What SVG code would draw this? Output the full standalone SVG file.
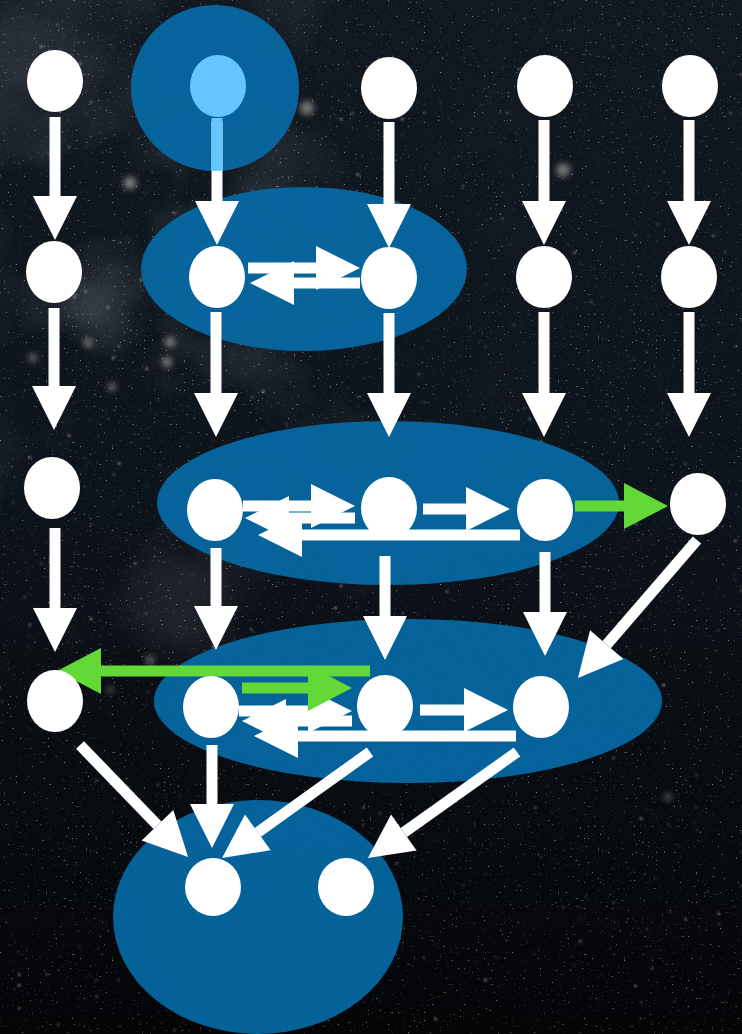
<svg xmlns="http://www.w3.org/2000/svg" width="742" height="1034" viewBox="0 0 742 1034">
  <style>
    .cluster { fill: #0569a5; opacity: 0.93; }
    .node { fill: #ffffff; }
    .node.src { fill: #66c5ff; }
    .edge { stroke: #ffffff; stroke-width: 11; fill: none; marker-end: url(#head); }
    .edge.hl { stroke: #62d936; marker-end: url(#headGreen); }
    .glow { fill: #b9b6aa; filter: url(#soft); }
  </style>
  <defs>
    <marker id="head" markerUnits="userSpaceOnUse" markerWidth="46" markerHeight="46" refX="0" refY="22" orient="auto" overflow="visible">
      <path d="M0,0 L44,22 L0,44 Z" fill="#ffffff"/>
    </marker>
    <marker id="headGreen" markerUnits="userSpaceOnUse" markerWidth="46" markerHeight="46" refX="0" refY="23" orient="auto" overflow="visible">
      <path d="M0,0 L44,23 L0,46 Z" fill="#62d936"/>
    </marker>
    <linearGradient id="sky" x1="0" y1="0" x2="0" y2="1">
      <stop offset="0" stop-color="#121820"/>
      <stop offset="0.5" stop-color="#0d131a"/>
      <stop offset="1" stop-color="#040507"/>
    </linearGradient>
    <radialGradient id="hazeMask" cx="0.2" cy="0.25" r="0.55">
      <stop offset="0" stop-color="#fff" stop-opacity="1"/>
      <stop offset="0.6" stop-color="#fff" stop-opacity="0.4"/>
      <stop offset="1" stop-color="#fff" stop-opacity="0"/>
    </radialGradient>
    <mask id="hazeArea" maskUnits="userSpaceOnUse" x="0" y="0" width="742" height="1034">
      <rect width="742" height="1034" fill="url(#hazeMask)"/>
    </mask>
    <filter id="nebula" filterUnits="userSpaceOnUse" x="0" y="0" width="742" height="1034">
      <feTurbulence type="fractalNoise" baseFrequency="0.006" numOctaves="4" seed="4"/>
      <feColorMatrix type="matrix" values="0 0 0 0 0.40  0 0 0 0 0.44  0 0 0 0 0.50  2.2 0 0 0 -0.95"/>
    </filter>
    <filter id="dust" filterUnits="userSpaceOnUse" x="0" y="0" width="742" height="1034">
      <feTurbulence type="fractalNoise" baseFrequency="0.5" numOctaves="1" seed="11"/>
      <feColorMatrix type="matrix" values="0 0 0 0 0.82  0 0 0 0 0.84  0 0 0 0 0.80  10 0 0 0 -7.1"/>
      <feGaussianBlur stdDeviation="0.5"/>
    </filter>
    <filter id="bright" filterUnits="userSpaceOnUse" x="0" y="0" width="742" height="1034">
      <feTurbulence type="fractalNoise" baseFrequency="0.18" numOctaves="1" seed="23"/>
      <feColorMatrix type="matrix" values="0 0 0 0 0.88  0 0 0 0 0.88  0 0 0 0 0.82  14 0 0 0 -10.6"/>
      <feGaussianBlur stdDeviation="0.8"/>
    </filter>
    <filter id="soft" x="-2" y="-2" width="5" height="5">
      <feGaussianBlur stdDeviation="3"/>
    </filter>
    <clipPath id="srcClip">
      <ellipse cx="215" cy="88" rx="84" ry="83"/>
    </clipPath>
  </defs>

  <!-- night sky backdrop -->
  <g id="backdrop">
    <rect width="742" height="1034" fill="url(#sky)"/>
    <rect width="742" height="1034" filter="url(#nebula)" mask="url(#hazeArea)" opacity="0.4"/>
    <rect width="742" height="1034" filter="url(#dust)" opacity="0.5"/>
    <rect width="742" height="1034" filter="url(#bright)" opacity="0.6"/>
    <circle class="glow" cx="130" cy="183" r="6" opacity="0.7"/>
    <circle class="glow" cx="307" cy="108" r="7" opacity="0.6"/>
    <circle class="glow" cx="563" cy="170" r="7" opacity="0.6"/>
    <circle class="glow" cx="88" cy="343" r="4" opacity="0.7"/>
    <circle class="glow" cx="33" cy="358" r="4" opacity="0.6"/>
    <circle class="glow" cx="170" cy="342" r="5" opacity="0.7"/>
    <circle class="glow" cx="167" cy="362" r="5" opacity="0.7"/>
    <circle class="glow" cx="112" cy="387" r="4" opacity="0.6"/>
    <circle class="glow" cx="668" cy="797" r="3" opacity="0.7"/>
    <circle class="glow" cx="150" cy="660" r="4" opacity="0.6"/>
    <circle class="glow" cx="110" cy="690" r="3" opacity="0.5"/>
  </g>

  <!-- cluster regions -->
  <g id="clusters">
    <ellipse id="cluster-0" class="cluster" cx="215" cy="88" rx="84" ry="83"/>
    <ellipse id="cluster-1" class="cluster" cx="304" cy="269" rx="163" ry="82"/>
    <ellipse id="cluster-2" class="cluster" cx="388" cy="503" rx="231" ry="82"/>
    <ellipse id="cluster-3" class="cluster" cx="408" cy="701" rx="254" ry="82"/>
    <ellipse id="cluster-4" class="cluster" cx="258" cy="917" rx="145" ry="117"/>
  </g>

  <!-- connectors (each line ends at the arrowhead base) -->
  <g id="connectors">
    <!-- row 1 to row 2 -->
    <line class="edge" x1="55" y1="117" x2="55" y2="196"/>
    <line class="edge" x1="217" y1="122" x2="217" y2="201"/>
    <line class="edge" x1="389" y1="122" x2="389" y2="204"/>
    <line class="edge" x1="544" y1="120" x2="544" y2="201"/>
    <line class="edge" x1="689" y1="120" x2="689" y2="201"/>
    <!-- highlighted part of the source edge inside its cluster -->
    <rect x="211.5" y="118" width="11" height="60" fill="#66c5ff" clip-path="url(#srcClip)"/>

    <!-- row 2 -->
    <line class="edge" x1="248" y1="268" x2="316" y2="268"/>
    <line class="edge" x1="360" y1="283" x2="294" y2="283"/>

    <!-- row 2 to row 3 -->
    <line class="edge" x1="54" y1="308" x2="54" y2="386"/>
    <line class="edge" x1="216" y1="312" x2="216" y2="393"/>
    <line class="edge" x1="389" y1="313" x2="389" y2="393"/>
    <line class="edge" x1="544" y1="312" x2="544" y2="393"/>
    <line class="edge" x1="689" y1="312" x2="689" y2="393"/>

    <!-- row 3 -->
    <line class="edge" x1="243" y1="506" x2="311" y2="506"/>
    <line class="edge" x1="355" y1="518" x2="289" y2="518"/>
    <line class="edge" x1="520" y1="535" x2="302" y2="535"/>
    <line class="edge" x1="423" y1="509" x2="466" y2="509"/>
    <line class="edge hl" x1="575" y1="506" x2="624" y2="506"/>

    <!-- row 3 to row 4 -->
    <line class="edge" x1="55" y1="528" x2="55" y2="608"/>
    <line class="edge" x1="216" y1="548" x2="216" y2="606"/>
    <line class="edge" x1="385" y1="556" x2="385" y2="616"/>
    <line class="edge" x1="545" y1="552" x2="545" y2="612"/>
    <line class="edge" x1="697" y1="540" x2="606.7" y2="644.7"/>

    <!-- row 4 -->
    <line class="edge" x1="239" y1="711" x2="308" y2="711"/>
    <line class="edge" x1="352" y1="721" x2="286" y2="721"/>
    <line class="edge" x1="516" y1="736" x2="298" y2="736"/>
    <line class="edge" x1="420" y1="710" x2="464" y2="710"/>
    <line class="edge hl" x1="370" y1="671" x2="101" y2="671"/>
    <line class="edge hl" x1="242" y1="688" x2="308" y2="688"/>

    <!-- row 4 to row 5 -->
    <line class="edge" x1="80" y1="745" x2="157.5" y2="825.3"/>
    <line class="edge" x1="212" y1="745" x2="212" y2="804"/>
    <line class="edge" x1="370" y1="752" x2="257.8" y2="832.4"/>
    <line class="edge" x1="517" y1="752" x2="403.8" y2="832.5"/>
  </g>

  <!-- nodes -->
  <g id="n-1-1"><ellipse class="node" cx="55" cy="81" rx="28" ry="31"/></g>
  <g id="n-1-2"><ellipse class="node src" cx="218" cy="86" rx="28" ry="31"/></g>
  <g id="n-1-3"><ellipse class="node" cx="389" cy="88" rx="28" ry="31"/></g>
  <g id="n-1-4"><ellipse class="node" cx="545" cy="86" rx="28" ry="31"/></g>
  <g id="n-1-5"><ellipse class="node" cx="690" cy="86" rx="28" ry="31"/></g>

  <g id="n-2-1"><ellipse class="node" cx="54" cy="272" rx="28" ry="31"/></g>
  <g id="n-2-2"><ellipse class="node" cx="217" cy="277" rx="28" ry="31"/></g>
  <g id="n-2-3"><ellipse class="node" cx="389" cy="278" rx="28" ry="31"/></g>
  <g id="n-2-4"><ellipse class="node" cx="544" cy="277" rx="28" ry="31"/></g>
  <g id="n-2-5"><ellipse class="node" cx="689" cy="277" rx="28" ry="31"/></g>

  <g id="n-3-1"><ellipse class="node" cx="52" cy="488" rx="28" ry="31"/></g>
  <g id="n-3-2"><ellipse class="node" cx="215" cy="510" rx="28" ry="31"/></g>
  <g id="n-3-3"><ellipse class="node" cx="389" cy="508" rx="28" ry="31"/></g>
  <g id="n-3-4"><ellipse class="node" cx="545" cy="510" rx="28" ry="31"/></g>
  <g id="n-3-5"><ellipse class="node" cx="698" cy="504" rx="28" ry="31"/></g>

  <g id="n-4-1"><ellipse class="node" cx="55" cy="701" rx="28" ry="31"/></g>
  <g id="n-4-2"><ellipse class="node" cx="211" cy="707" rx="28" ry="31"/></g>
  <g id="n-4-3"><ellipse class="node" cx="385" cy="706" rx="28" ry="31"/></g>
  <g id="n-4-4"><ellipse class="node" cx="541" cy="707" rx="28" ry="31"/></g>

  <g id="n-5-1"><ellipse class="node" cx="213" cy="887" rx="28" ry="29"/></g>
  <g id="n-5-2"><ellipse class="node" cx="346" cy="887" rx="28" ry="29"/></g>
</svg>
